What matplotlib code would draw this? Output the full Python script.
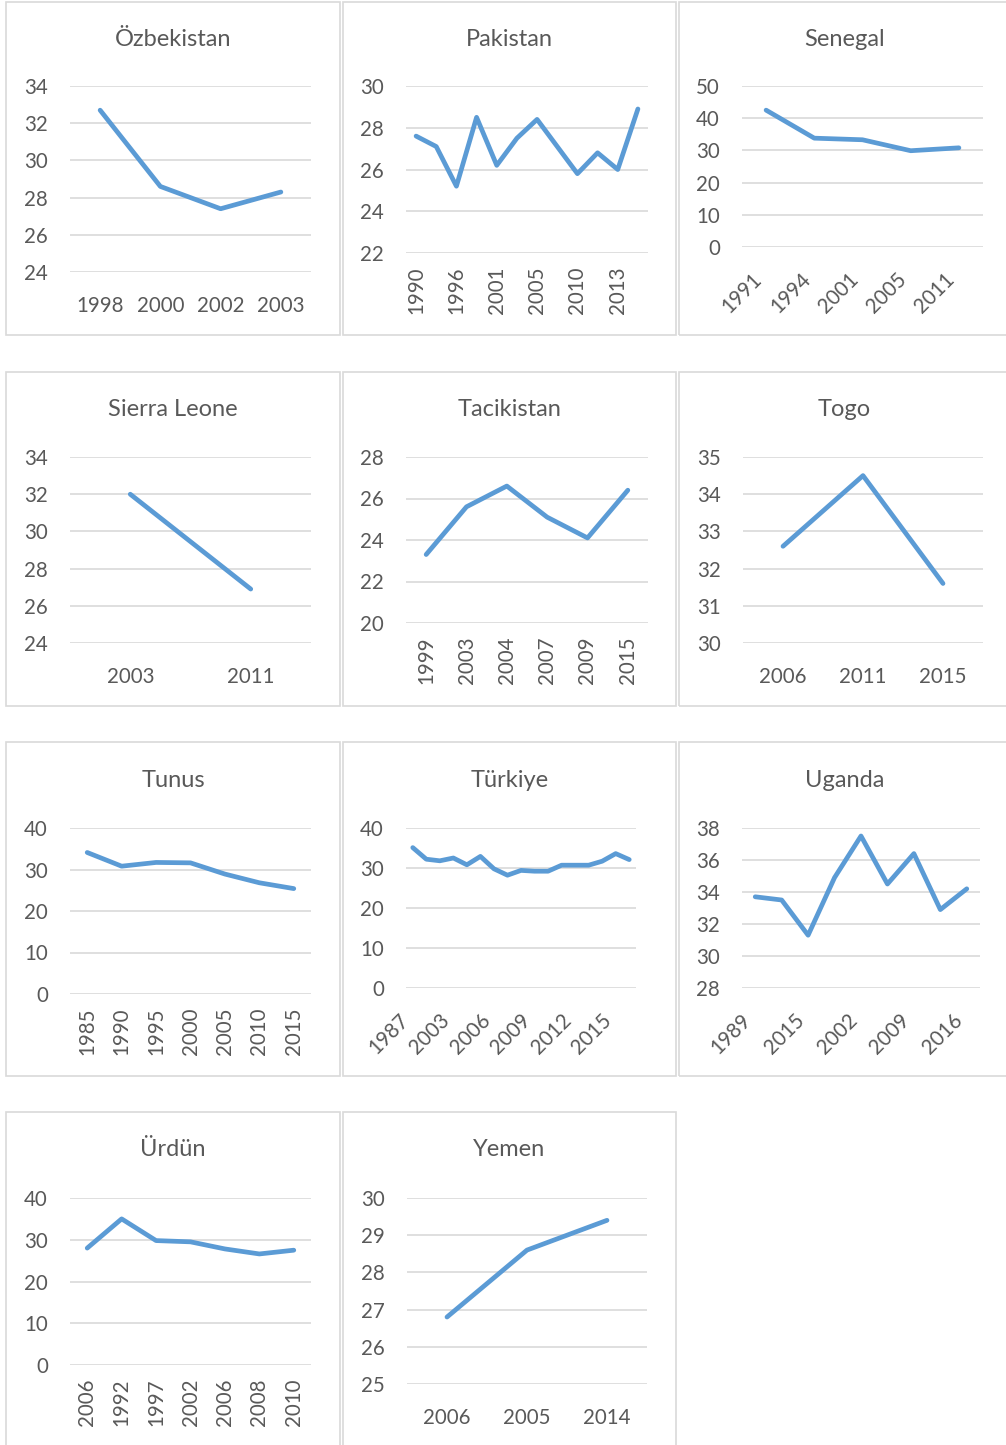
import matplotlib.pyplot as plt
from matplotlib.patches import Rectangle

plt.rcParams['font.family'] = ['Lato', 'DejaVu Sans']

W, H = 1006, 1445

# --- Data ---
ozb_years = ["1998", "2000", "2002", "2003"]
ozb_vals = [32.7, 28.6, 27.4, 28.3]

pak_years = ["1990", "1993", "1996", "1999", "2001", "2002",
             "2005", "2008", "2010", "2011", "2013", "2015"]
pak_vals = [27.6, 27.1, 25.2, 28.5, 26.2, 27.5, 28.4, 27.1, 25.8, 26.8, 26.0, 28.9]

sen_years = ["1991", "1994", "2001", "2005", "2011"]
sen_vals = [42.5, 33.8, 33.3, 29.9, 30.8]

sle_years = ["2003", "2011"]
sle_vals = [32.0, 26.9]

tjk_years = ["1999", "2003", "2004", "2007", "2009", "2015"]
tjk_vals = [23.3, 25.6, 26.6, 25.1, 24.1, 26.4]

tgo_years = ["2006", "2011", "2015"]
tgo_vals = [32.6, 34.5, 31.6]

tun_years = ["1985", "1990", "1995", "2000", "2005", "2010", "2015"]
tun_vals = [34.1, 30.8, 31.7, 31.6, 28.9, 26.8, 25.4]

tur_years = ["1987", "1994", "2002", "2003", "2004", "2005", "2006", "2007", "2008",
             "2009", "2010", "2011", "2012", "2013", "2014", "2015", "2016"]
tur_vals = [35.1, 32.2, 31.8, 32.5, 30.8, 32.9, 29.8, 28.2, 29.4,
            29.2, 29.2, 30.7, 30.7, 30.7, 31.7, 33.6, 32.1]

uga_years = ["1989", "1992", "2015", "1999", "2002", "2005", "2009", "2012", "2016"]
uga_vals = [33.7, 33.5, 31.3, 34.9, 37.5, 34.5, 36.4, 32.9, 34.2]

urd_years = ["2006", "1992", "1997", "2002", "2006", "2008", "2010"]
urd_vals = [28.0, 35.0, 29.8, 29.5, 27.8, 26.6, 27.5]

yem_years = ["2006", "2005", "2014"]
yem_vals = [26.8, 28.6, 29.4]

# title, years, values, (ymin, ymax, step), label step, rotation,
# panel box (l, t, r, b) px, plot box (l, t, r, b) px
panels = [
    ("Özbekistan", ozb_years, ozb_vals, (24, 34, 2), 1, 0, (6, 2, 340, 335), (70, 86, 311, 272)),
    ("Pakistan", pak_years, pak_vals, (22, 30, 2), 2, 90, (343, 2, 676, 335), (406, 86, 648, 253)),
    ("Senegal", sen_years, sen_vals, (0, 50, 10), 1, 45, (679, 2, 1010, 335), (742, 86, 983, 247)),
    ("Sierra Leone", sle_years, sle_vals, (24, 34, 2), 1, 0, (6, 372, 340, 706), (70, 457, 311, 643)),
    ("Tacikistan", tjk_years, tjk_vals, (20, 28, 2), 1, 90, (343, 372, 676, 706), (406, 457, 648, 623)),
    ("Togo", tgo_years, tgo_vals, (30, 35, 1), 1, 0, (679, 372, 1010, 706), (743, 457, 983, 643)),
    ("Tunus", tun_years, tun_vals, (0, 40, 10), 1, 90, (6, 742, 340, 1076), (70, 828, 311, 994)),
    ("Türkiye", tur_years, tur_vals, (0, 40, 10), 3, 45, (343, 742, 676, 1076), (406, 828, 636, 988)),
    ("Uganda", uga_years, uga_vals, (28, 38, 2), 2, 45, (679, 742, 1010, 1076), (742, 828, 980, 988)),
    ("Ürdün", urd_years, urd_vals, (0, 40, 10), 1, 90, (6, 1112, 340, 1450), (70, 1198, 311, 1365)),
    ("Yemen", yem_years, yem_vals, (25, 30, 1), 1, 0, (343, 1112, 676, 1450), (407, 1198, 647, 1384)),
]

LINE = "#5B9BD5"
GRID = "#D9D9D9"
TEXT = "#595959"

fig = plt.figure(figsize=(W / 100, H / 100), dpi=100)

for title, years, vals, (ymin, ymax, step), every, rot, box, rect in panels:
    # panel border
    bl, bt, br, bb = box
    fig.patches.append(Rectangle((bl / W, 1 - bb / H), (br - bl) / W, (bb - bt) / H,
                                 transform=fig.transFigure, fill=False,
                                 edgecolor=GRID, linewidth=1.2))
    fig.text((bl + br) / 2 / W, 1 - (bt + 38) / H, title, ha="center", va="center",
             fontsize=17, color=TEXT)

    l, t, r, b = rect
    ax = fig.add_axes([l / W, 1 - b / H, (r - l) / W, (b - t) / H])
    x = list(range(len(years)))
    ax.plot(x, vals, color=LINE, linewidth=3.4, solid_capstyle="round",
            solid_joinstyle="round", clip_on=False, zorder=3)
    ax.set_xlim(-0.5, len(years) - 0.5)
    ax.set_ylim(ymin, ymax)
    yt = list(range(ymin, ymax + 1, step))
    ax.set_yticks(yt)
    for v in yt:
        ax.axhline(v, color=GRID, linewidth=1.2, zorder=1)
    ax.set_xticks(x[::every])
    if rot == 0:
        ax.set_xticklabels(years[::every])
        ax.tick_params(axis="x", pad=17)
    elif rot == 90:
        ax.set_xticklabels(years[::every], rotation=90, ha="center", va="top")
        ax.tick_params(axis="x", pad=10)
    else:
        ax.set_xticklabels(years[::every], rotation=45, ha="right", va="top",
                           rotation_mode="default")
        ax.tick_params(axis="x", pad=16)
    ax.tick_params(axis="both", length=0, labelsize=14.8, labelcolor=TEXT)
    ax.tick_params(axis="y", pad=16)
    for s in ax.spines.values():
        s.set_visible(False)
    ax.patch.set_alpha(0)

fig.savefig("out.png", dpi=100, facecolor="white")
